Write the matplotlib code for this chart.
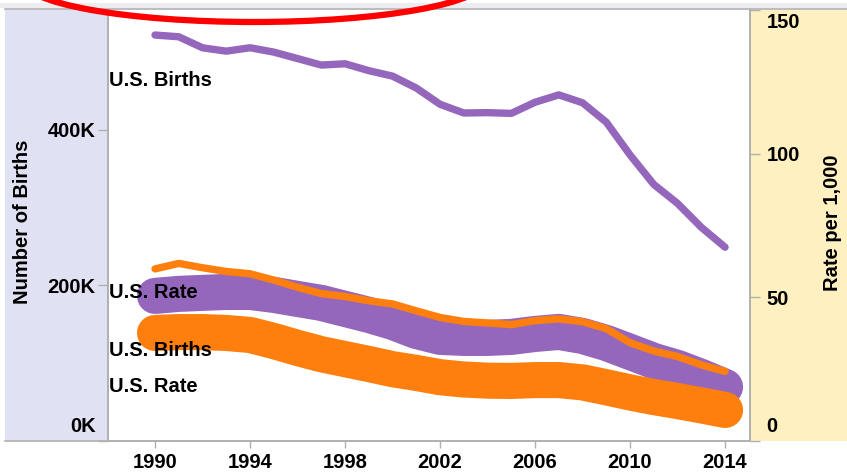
import matplotlib
matplotlib.use("Agg")
import matplotlib.pyplot as plt
import matplotlib.transforms as mtransforms
from matplotlib.patches import Rectangle, Ellipse
from matplotlib.lines import Line2D

plt.rcParams['font.family'] = ['Liberation Sans', 'DejaVu Sans']
plt.rcParams['font.weight'] = 'bold'

W, H = 847, 476

years = list(range(1990, 2015))
# thin lines (ages 15-19)
us_births = [521826, 519577, 505415, 501093, 505488, 499873, 491577, 483220,
             484895, 476050, 468990, 453725, 432808, 421626, 422043, 421123,
             435436, 444899, 434758, 409840, 367678, 329772, 305388, 274641,
             249078]
us_rate = [59.9, 61.8, 60.3, 59.0, 58.2, 56.0, 53.5, 51.3, 50.3, 48.8, 47.7,
           45.3, 43.0, 41.6, 41.1, 40.5, 41.9, 42.5, 41.5, 39.1, 34.2, 31.3,
           29.4, 26.5, 24.2]
# thick lines
sub_births = [186500, 189100, 190400, 191600, 191600, 187800, 182600, 177500,
              169800, 162100, 153100, 141500, 133800, 132500, 132500, 133800,
              137600, 140200, 135000, 126000, 114500, 102900, 93900, 82300,
              69500]
sub_rate = [37.6, 37.9, 37.9, 37.6, 36.9, 34.8, 32.4, 30.2, 28.5, 26.8, 25.0,
            23.7, 22.2, 21.4, 21.0, 20.9, 21.2, 21.2, 20.4, 18.7, 16.9, 15.3,
            13.9, 12.4, 10.8]

x_ticks = [1990, 1994, 1998, 2002, 2006, 2010, 2014]
births_ticks = [0, 200000, 400000]
births_labels = ['0K', '200K', '400K']
rate_ticks = [0, 50, 100, 150]

purple = '#9467bd'
orange = '#ff7f0e'
grey = '#b0b0b0'
fs = 14.5


def fx(x):
    return x / W


def fy(y):
    return 1 - y / H


fig = plt.figure(figsize=(W / 100, H / 100), dpi=100)

# background panels (behind the axes)
fig.patches.append(Rectangle((fx(0), fy(8)), 1, 5 / H, transform=fig.transFigure,
                             facecolor='#ededf1', edgecolor='none', zorder=-2))
fig.patches.append(Rectangle((fx(5), fy(441)), 103 / W, 431 / H, transform=fig.transFigure,
                             facecolor='#e1e1f4', edgecolor='none', zorder=-2))
fig.patches.append(Rectangle((fx(750), fy(441)), 97 / W, 431 / H, transform=fig.transFigure,
                             facecolor='#fef0c0', edgecolor='none', zorder=-2))
fig.add_artist(Line2D([fx(5), 1], [fy(9), fy(9)], color=grey, lw=1.2, zorder=-1))
fig.add_artist(Line2D([fx(5), fx(750)], [fy(441), fy(441)], color=grey, lw=1.2, zorder=-1))

ax = fig.add_axes([fx(108), fy(441), 642 / W, 431 / H])
ax.set_facecolor('white')
ax2 = ax.twinx()

ax.plot(years, sub_births, color=purple, lw=26, solid_capstyle='round',
        solid_joinstyle='round')
ax.plot(years, us_births, color=purple, lw=5.3, solid_capstyle='round',
        solid_joinstyle='round')
ax2.plot(years, sub_rate, color=orange, lw=26, solid_capstyle='round',
         solid_joinstyle='round')
ax2.plot(years, us_rate, color=orange, lw=5.3, solid_capstyle='round',
         solid_joinstyle='round')

ax.set_xlim(1988.02, 2015.05)
ax.set_ylim(0, 554000)
ax2.set_ylim(0, 150)

for a in (ax, ax2):
    for s in a.spines.values():
        s.set_color(grey)
        s.set_linewidth(1.2)
    a.spines['top'].set_visible(False)

ax.set_xticks(x_ticks)
ax.set_xticklabels([str(t) for t in x_ticks])
ax.tick_params(axis='x', length=5, width=1, color=grey, pad=4, labelsize=fs)

ax.set_yticks(births_ticks)
ax.set_yticklabels(births_labels)
ax.tick_params(axis='y', length=7, width=1, color=grey, pad=2, labelsize=fs)

ax2.set_yticks(rate_ticks)
ax2.set_yticklabels([str(t) for t in rate_ticks])
ax2.tick_params(axis='y', length=7, width=1, color=grey, pad=5, labelsize=fs)

# flush end labels inside the range
up = mtransforms.ScaledTranslation(0, 16 / 100, fig.dpi_scale_trans)
down = mtransforms.ScaledTranslation(0, -10 / 100, fig.dpi_scale_trans)
lbl = ax.get_yticklabels()
lbl[0].set_transform(lbl[0].get_transform() + up)
lbl2 = ax2.get_yticklabels()
lbl2[0].set_transform(lbl2[0].get_transform() + up)
lbl2[-1].set_transform(lbl2[-1].get_transform() + down)

fig.text(fx(22), fy(222), 'Number of Births', rotation=90, ha='center', va='center',
         fontsize=fs)
fig.text(fx(832), fy(223), 'Rate per 1,000', rotation=90, ha='center', va='center',
         fontsize=fs)

for txt, y in [('U.S. Births', 79), ('U.S. Rate', 290), ('U.S. Births', 348),
               ('U.S. Rate', 384)]:
    fig.text(fx(109), fy(y), txt, ha='left', va='center_baseline', fontsize=fs)

fig.add_artist(Ellipse((fx(254), fy(-20)), 464 / W, 84 / H, transform=fig.transFigure,
                       fill=False, edgecolor='#ff0000', linewidth=4.5, clip_on=False))

fig.savefig('out.png', dpi=100)
